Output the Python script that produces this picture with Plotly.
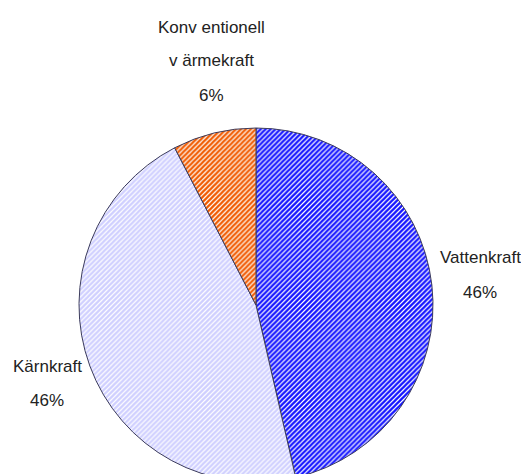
import plotly.graph_objects as go

# Elproduktion per kraftslag (andel)
labels = ["Vattenkraft", "Kärnkraft", "Konventionell värmekraft"]
values = [46.4, 46.0, 7.6]
pct_text = ["46%", "46%", "6%"]
label_lines = [["Vattenkraft"], ["Kärnkraft"], ["Konv entionell", "v ärmekraft"]]

# the page body adds an 8px margin, the figure is a bit taller than the window
# so the bottom of the pie gets cut off like in the original
W, H = 529, 490
OFF = 8


def px_x(x):
    return (x - OFF) / W


def px_y(y):
    return 1 - (y - OFF) / H


cx, cy, r = 256, 305, 177

fig = go.Figure(
    go.Pie(
        labels=labels,
        values=values,
        sort=False,
        direction="clockwise",
        rotation=0,
        textinfo="none",
        hoverinfo="label+percent",
        marker=dict(
            colors=["#1a1aff", "#d4d4ff", "#ff6a1a"],
            line=dict(color="#3c3c5c", width=1),
            pattern=dict(
                shape="/",
                fgcolor=["#ffffff", "#ffffff", "#ffffff"],
                bgcolor=["#1414ff", "#cfcfff", "#f05a00"],
                size=3.5,
                solidity=0.35,
            ),
        ),
        domain=dict(x=[px_x(cx - r), px_x(cx + r)], y=[px_y(cy + r), px_y(cy - r)]),
        showlegend=False,
    )
)

# label positions in reference pixels (centre of each text line)
label_pos = [
    [(480, 257), (480, 292)],
    [(47, 366), (47, 400)],
    [(211, 27), (211, 61), (211, 95)],
]

for lines, pct, pos in zip(label_lines, pct_text, label_pos):
    for txt, (x, y) in zip(lines + [pct], pos):
        fig.add_annotation(
            x=px_x(x),
            y=px_y(y),
            xref="paper",
            yref="paper",
            text=txt,
            showarrow=False,
            xanchor="center",
            yanchor="middle",
            font=dict(family="Liberation Sans, Arial, sans-serif", size=17, color="#222222"),
        )

fig.update_layout(
    width=W,
    height=H,
    margin=dict(l=0, r=0, t=0, b=0),
    paper_bgcolor="white",
    plot_bgcolor="white",
)

fig.write_html("out.html")
